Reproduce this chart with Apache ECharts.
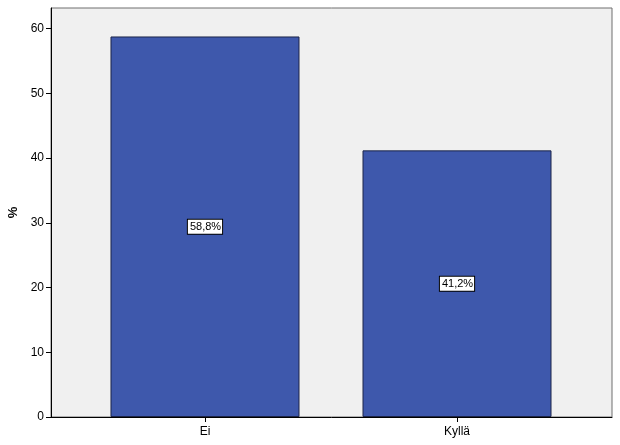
<!DOCTYPE html>
<html>
<head>
<meta charset="utf-8">
<script src="https://cdn.jsdelivr.net/npm/echarts@6/dist/echarts.min.js"></script>
<style>
    html, body { margin: 0; padding: 0; background: #fff; }
    #chart { width: 620px; height: 445px; }
</style>
</head>
<body>
<div id="chart"></div>
<script>
const categories = ['Ei', 'Kyllä'];
const percentValues = [58.8, 41.2];
const yTicks = [0, 10, 20, 30, 40, 50, 60];

document.addEventListener('DOMContentLoaded', function () {
    const chart = echarts.init(document.getElementById('chart'));
    const font = 'Liberation Sans, Arial, sans-serif';

    // bars sit on positions 0 and 1 of a value axis, with extra room at both sides
    const barData = percentValues.map((v, i) => [i, v]);
    const positions = categories.map((c, i) => i);

    chart.setOption({
        animation: false,
        grid: {
            left: 51, right: 8, top: 8, bottom: 28,
            outerBoundsMode: 'none',
            show: true,
            backgroundColor: '#f0f0f0',
            borderColor: '#6e6e6e',
            borderWidth: 1
        },
        xAxis: {
            type: 'value',
            min: -0.611,
            max: 1.615,
            splitLine: { show: false },
            axisLine: { show: true, onZero: false, lineStyle: { color: '#000' } },
            axisTick: {
                show: true, length: 5, inside: false,
                customValues: positions,
                lineStyle: { color: '#000' }
            },
            axisLabel: {
                customValues: positions,
                formatter: v => categories[Math.round(v)],
                color: '#000',
                fontFamily: font,
                fontSize: 12,
                margin: 9
            }
        },
        yAxis: {
            type: 'value',
            min: 0,
            max: 63.2,
            name: '%',
            nameLocation: 'middle',
            nameGap: 29,
            nameRotate: 90,
            nameTextStyle: { color: '#000', fontFamily: font, fontSize: 13, fontWeight: 'bold' },
            splitLine: { show: false },
            axisLine: { show: true, onZero: false, lineStyle: { color: '#000' } },
            axisTick: {
                show: true, length: 5,
                customValues: yTicks,
                lineStyle: { color: '#000' }
            },
            axisLabel: {
                customValues: yTicks,
                color: '#000',
                fontFamily: font,
                fontSize: 12,
                margin: 7
            }
        },
        series: [
            {
                type: 'bar',
                data: barData,
                barWidth: 189,
                itemStyle: {
                    color: '#3e58ac',
                    borderColor: '#1c2448',
                    borderWidth: 1
                },
                label: {
                    show: true,
                    position: 'inside',
                    formatter: p => p.value[1].toFixed(1).replace('.', ',') + '%',
                    color: '#000',
                    fontFamily: font,
                    fontSize: 11,
                    backgroundColor: '#fff',
                    borderColor: '#000',
                    borderWidth: 1,
                    padding: [2, 1, 1, 2]
                }
            }
        ]
    });
});
</script>
</body>
</html>
